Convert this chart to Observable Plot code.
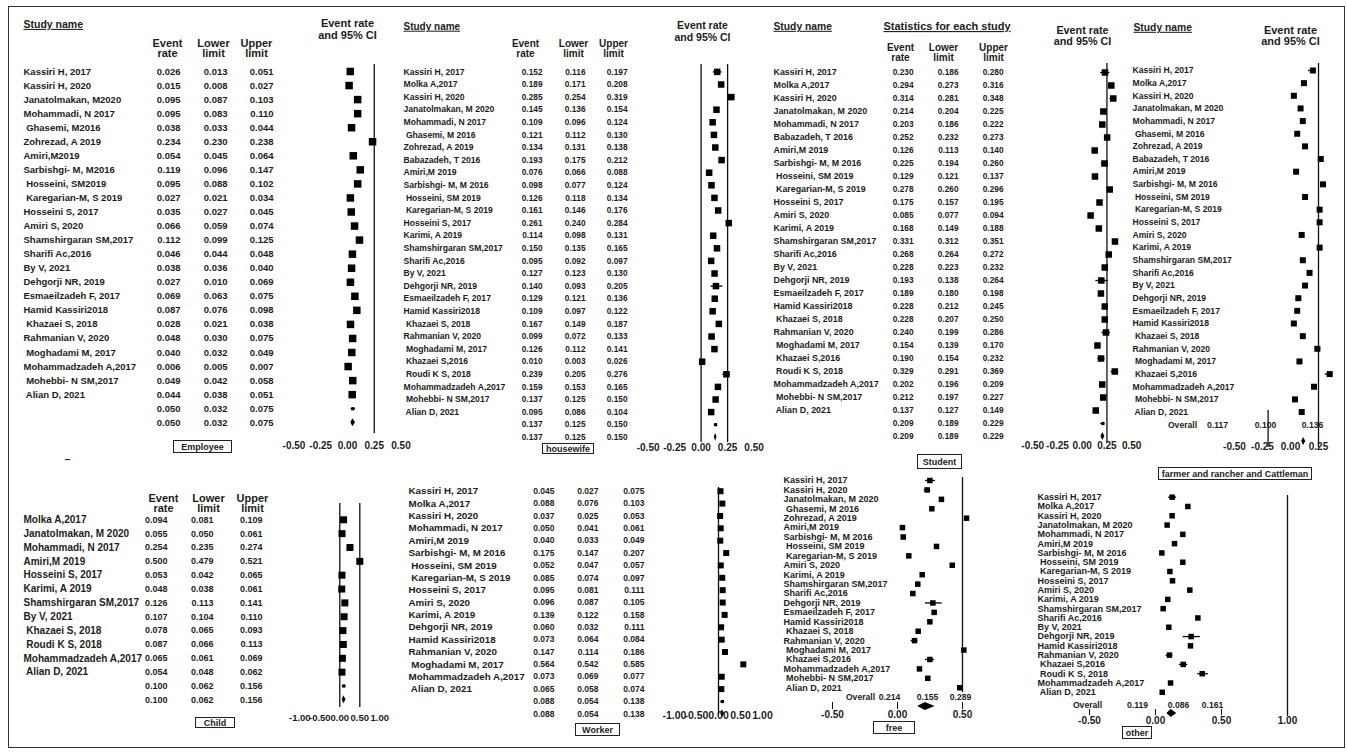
<!DOCTYPE html>
<html>
<head>
<meta charset="utf-8">
<script src="https://cdn.jsdelivr.net/npm/d3@7"></script>
<script src="https://cdn.jsdelivr.net/npm/@observablehq/plot@0.6"></script>
<style>
  html, body { margin: 0; padding: 0; background: #fff; }
  #page { position: relative; width: 1347px; height: 752px; overflow: hidden; background: #fff; }
  #frame { position: absolute; left: 8px; top: 6px; width: 1337px; height: 742px; border: 1.5px solid #333; box-sizing: border-box; }
  .panel { position: absolute; }
  .panel svg { display: block; }
  .tag { position: absolute; box-sizing: border-box; border: 1.3px solid #222; font: bold 9px "Liberation Sans", Arial, sans-serif; color: #222; display: flex; align-items: center; justify-content: center; white-space: nowrap; }
</style>
</head>
<body>
<div id="page"><div id="frame"></div></div>
<script>
// ---------------- data ----------------
const groupLabels = ["Employee", "housewife", "Student", "farmer and rancher and Cattleman", "Child", "Worker", "free", "other"];

const ticksHalf = [-0.5, -0.25, 0, 0.25, 0.5];
const ticksFarmer = [-0.5, -0.25, 0, 0.25];
const ticksOne = [-1, -0.5, 0, 0.5, 1];
const ticksFree = [-0.5, 0, 0.5];
const ticksOther = [-0.5, 0, 0.5, 1];

const employeeStudy = ["Kassiri H, 2017", "Kassiri H, 2020", "Janatolmakan, M2020", "Mohammadi, N 2017", " Ghasemi, M2016", "Zohrezad, A 2019", "Amiri,M2019", "Sarbishgi- M, M2016", " Hosseini, SM2019", " Karegarian-M, S 2019", "Hosseini S, 2017", "Amiri S, 2020", "Shamshirgaran SM,2017", "Sharifi Ac,2016", "By V, 2021", "Dehgorji NR, 2019", "Esmaeilzadeh F, 2017", "Hamid Kassiri2018", " Khazaei S, 2018", "Rahmanian V, 2020", " Moghadami M, 2017", "Mohammadzadeh A,2017", " Mohebbi- N SM,2017", " Alian D, 2021"];
const employeeRate  = [0.026, 0.015, 0.095, 0.095, 0.038, 0.234, 0.054, 0.119, 0.095, 0.027, 0.035, 0.066, 0.112, 0.046, 0.038, 0.027, 0.069, 0.087, 0.028, 0.048, 0.040, 0.006, 0.049, 0.044];
const employeeLower = [0.013, 0.008, 0.087, 0.083, 0.033, 0.230, 0.045, 0.096, 0.088, 0.021, 0.027, 0.059, 0.099, 0.044, 0.036, 0.010, 0.063, 0.076, 0.021, 0.030, 0.032, 0.005, 0.042, 0.038];
const employeeUpper = [0.051, 0.027, 0.103, 0.110, 0.044, 0.238, 0.064, 0.147, 0.102, 0.034, 0.045, 0.074, 0.125, 0.048, 0.040, 0.069, 0.075, 0.098, 0.038, 0.075, 0.049, 0.007, 0.058, 0.051];
const employeeSummary = [0.050, 0.032, 0.075];

const housewifeStudy = ["Kassiri H, 2017", "Molka A,2017", "Kassiri H, 2020", "Janatolmakan, M 2020", "Mohammadi, N 2017", " Ghasemi, M 2016", "Zohrezad, A 2019", "Babazadeh, T 2016", "Amiri,M 2019", "Sarbishgi- M, M 2016", " Hosseini, SM 2019", " Karegarian-M, S 2019", "Hosseini S, 2017", "Karimi, A 2019", "Shamshirgaran SM,2017", "Sharifi Ac,2016", "By V, 2021", "Dehgorji NR, 2019", "Esmaeilzadeh F, 2017", "Hamid Kassiri2018", " Khazaei S, 2018", "Rahmanian V, 2020", " Moghadami M, 2017", " Khazaei S,2016", " Roudi K S, 2018", "Mohammadzadeh A,2017", " Mohebbi- N SM,2017", " Alian D, 2021"];
const housewifeRate  = [0.152, 0.189, 0.285, 0.145, 0.109, 0.121, 0.134, 0.193, 0.076, 0.098, 0.126, 0.161, 0.261, 0.114, 0.150, 0.095, 0.127, 0.140, 0.129, 0.109, 0.167, 0.099, 0.126, 0.010, 0.239, 0.159, 0.137, 0.095];
const housewifeLower = [0.116, 0.171, 0.254, 0.136, 0.096, 0.112, 0.131, 0.175, 0.066, 0.077, 0.118, 0.146, 0.240, 0.098, 0.135, 0.092, 0.123, 0.093, 0.121, 0.097, 0.149, 0.072, 0.112, 0.003, 0.205, 0.153, 0.125, 0.086];
const housewifeUpper = [0.197, 0.208, 0.319, 0.154, 0.124, 0.130, 0.138, 0.212, 0.088, 0.124, 0.134, 0.176, 0.284, 0.131, 0.165, 0.097, 0.130, 0.205, 0.136, 0.122, 0.187, 0.133, 0.141, 0.026, 0.276, 0.165, 0.150, 0.104];
const housewifeSummary = [0.137, 0.125, 0.150];

const studentStudy = ["Kassiri H, 2017", "Molka A,2017", "Kassiri H, 2020", "Janatolmakan, M 2020", "Mohammadi, N 2017", "Babazadeh, T 2016", "Amiri,M 2019", "Sarbishgi- M, M 2016", " Hosseini, SM 2019", " Karegarian-M, S 2019", "Hosseini S, 2017", "Amiri S, 2020", "Karimi, A 2019", "Shamshirgaran SM,2017", "Sharifi Ac,2016", "By V, 2021", "Dehgorji NR, 2019", "Esmaeilzadeh F, 2017", "Hamid Kassiri2018", " Khazaei S, 2018", "Rahmanian V, 2020", " Moghadami M, 2017", " Khazaei S,2016", " Roudi K S, 2018", "Mohammadzadeh A,2017", " Mohebbi- N SM,2017", " Alian D, 2021"];
const studentRate  = [0.230, 0.294, 0.314, 0.214, 0.203, 0.252, 0.126, 0.225, 0.129, 0.278, 0.175, 0.085, 0.168, 0.331, 0.268, 0.228, 0.193, 0.189, 0.228, 0.228, 0.240, 0.154, 0.190, 0.329, 0.202, 0.212, 0.137];
const studentLower = [0.186, 0.273, 0.281, 0.204, 0.186, 0.232, 0.113, 0.194, 0.121, 0.260, 0.157, 0.077, 0.149, 0.312, 0.264, 0.223, 0.138, 0.180, 0.212, 0.207, 0.199, 0.139, 0.154, 0.291, 0.196, 0.197, 0.127];
const studentUpper = [0.280, 0.316, 0.348, 0.225, 0.222, 0.273, 0.140, 0.260, 0.137, 0.296, 0.195, 0.094, 0.188, 0.351, 0.272, 0.232, 0.264, 0.198, 0.245, 0.250, 0.286, 0.170, 0.232, 0.369, 0.209, 0.227, 0.149];
const studentSummary = [0.209, 0.189, 0.229];

const farmerStudy = ["Kassiri H, 2017", "Molka A,2017", "Kassiri H, 2020", "Janatolmakan, M 2020", "Mohammadi, N 2017", " Ghasemi, M 2016", "Zohrezad, A 2019", "Babazadeh, T 2016", "Amiri,M 2019", "Sarbishgi- M, M 2016", " Hosseini, SM 2019", " Karegarian-M, S 2019", "Hosseini S, 2017", "Amiri S, 2020", "Karimi, A 2019", "Shamshirgaran SM,2017", "Sharifi Ac,2016", "By V, 2021", "Dehgorji NR, 2019", "Esmaeilzadeh F, 2017", "Hamid Kassiri2018", " Khazaei S, 2018", "Rahmanian V, 2020", " Moghadami M, 2017", " Khazaei S,2016", "Mohammadzadeh A,2017", " Mohebbi- N SM,2017", " Alian D, 2021"];
const farmerRate  = [0.20, 0.12, 0.03, 0.09, 0.11, 0.06, 0.13, 0.27, 0.05, 0.29, 0.13, 0.26, 0.26, 0.10, 0.26, 0.11, 0.17, 0.13, 0.07, 0.06, 0.03, 0.11, 0.24, 0.08, 0.35, 0.21, 0.04, 0.10];
const farmerLower = [0.16, null, null, null, null, null, null, null, null, null, null, null, null, null, null, null, null, null, 0.05, null, null, null, 0.22, null, 0.31, null, null, null];
const farmerUpper = [0.23, null, null, null, null, null, null, null, null, null, null, null, null, null, null, null, null, null, 0.10, null, null, null, 0.27, null, 0.38, null, null, null];
const farmerOverall = [0.117, 0.100, 0.136];

const childStudy = ["Molka A,2017", "Janatolmakan, M 2020", "Mohammadi, N 2017", "Amiri,M 2019", "Hosseini S, 2017", "Karimi, A 2019", "Shamshirgaran SM,2017", "By V, 2021", " Khazaei S, 2018", " Roudi K S, 2018", "Mohammadzadeh A,2017", " Alian D, 2021"];
const childRate  = [0.094, 0.055, 0.254, 0.500, 0.053, 0.048, 0.126, 0.107, 0.078, 0.087, 0.065, 0.054];
const childLower = [0.081, 0.050, 0.235, 0.479, 0.042, 0.038, 0.113, 0.104, 0.065, 0.066, 0.061, 0.048];
const childUpper = [0.109, 0.061, 0.274, 0.521, 0.065, 0.061, 0.141, 0.110, 0.093, 0.113, 0.069, 0.062];
const childSummary = [0.100, 0.062, 0.156];

const workerStudy = ["Kassiri H, 2017", "Molka A,2017", "Kassiri H, 2020", "Mohammadi, N 2017", "Amiri,M 2019", "Sarbishgi- M, M 2016", " Hosseini, SM 2019", " Karegarian-M, S 2019", "Hosseini S, 2017", "Amiri S, 2020", "Karimi, A 2019", "Dehgorji NR, 2019", "Hamid Kassiri2018", "Rahmanian V, 2020", " Moghadami M, 2017", "Mohammadzadeh A,2017", " Alian D, 2021"];
const workerRate  = [0.045, 0.088, 0.037, 0.050, 0.040, 0.175, 0.052, 0.085, 0.095, 0.096, 0.139, 0.060, 0.073, 0.147, 0.564, 0.073, 0.065];
const workerLower = [0.027, 0.076, 0.025, 0.041, 0.033, 0.147, 0.047, 0.074, 0.081, 0.087, 0.122, 0.032, 0.064, 0.114, 0.542, 0.069, 0.058];
const workerUpper = [0.075, 0.103, 0.053, 0.061, 0.049, 0.207, 0.057, 0.097, 0.111, 0.105, 0.158, 0.111, 0.084, 0.186, 0.585, 0.077, 0.074];
const workerSummary = [0.088, 0.054, 0.138];

const freeStudy = ["Kassiri H, 2017", "Kassiri H, 2020", "Janatolmakan, M 2020", " Ghasemi, M 2016", "Zohrezad, A 2019", "Amiri,M 2019", "Sarbishgi- M, M 2016", " Hosseini, SM 2019", " Karegarian-M, S 2019", "Amiri S, 2020", "Karimi, A 2019", "Shamshirgaran SM,2017", "Sharifi Ac,2016", "Dehgorji NR, 2019", "Esmaeilzadeh F, 2017", "Hamid Kassiri2018", " Khazaei S, 2018", "Rahmanian V, 2020", " Moghadami M, 2017", " Khazaei S,2016", "Mohammadzadeh A,2017", " Mohebbi- N SM,2017", " Alian D, 2021"];
const freeRate  = [0.249, 0.228, 0.338, 0.264, 0.531, 0.038, 0.044, 0.300, 0.087, 0.421, 0.190, 0.156, 0.118, 0.272, 0.282, 0.249, 0.159, 0.131, 0.510, 0.249, 0.169, 0.233, 0.479];
const freeLower = [0.215, 0.205, null, null, null, null, null, null, null, null, null, null, null, 0.215, null, null, null, 0.105, null, 0.215, null, null, null];
const freeUpper = [0.292, 0.256, null, null, null, null, null, null, null, null, null, null, null, 0.344, null, null, null, 0.156, null, 0.285, null, null, null];
const freeOverall = [0.214, 0.155, 0.289];

const otherStudy = ["Kassiri H, 2017", "Molka A,2017", "Kassiri H, 2020", "Janatolmakan, M 2020", "Mohammadi, N 2017", "Amiri,M 2019", "Sarbishgi- M, M 2016", " Hosseini, SM 2019", " Karegarian-M, S 2019", "Hosseini S, 2017", "Amiri S, 2020", "Karimi, A 2019", "Shamshirgaran SM,2017", "Sharifi Ac,2016", "By V, 2021", "Dehgorji NR, 2019", "Hamid Kassiri2018", "Rahmanian V, 2020", " Khazaei S,2016", " Roudi K S, 2018", "Mohammadzadeh A,2017", " Alian D, 2021"];
const otherRate  = [0.126, 0.245, 0.126, 0.088, 0.207, 0.144, 0.048, 0.207, 0.109, 0.129, 0.260, 0.093, 0.058, 0.321, 0.101, 0.270, 0.265, 0.106, 0.210, 0.354, 0.114, 0.051];
const otherLower = [0.10, null, null, null, null, null, null, null, null, null, null, null, null, null, null, 0.21, null, 0.08, 0.18, 0.32, null, null];
const otherUpper = [0.16, null, null, null, null, null, null, null, null, null, null, null, null, null, null, 0.34, null, 0.13, 0.245, 0.40, null, null];
const otherOverall = [0.119, 0.086, 0.161];

// ---------------- layout ----------------
const FONT = "'Liberation Sans', Arial, Helvetica, sans-serif";
const colHead = (x, y, size, lh) => [
  {t: "Event\nrate", x: x[0], y, size, lh},
  {t: "Lower\nlimit", x: x[1], y, size, lh},
  {t: "Upper\nlimit", x: x[2], y, size, lh}
];

const panels = [
  { L: 0, T: 0, W: 415, H: 462,
    names: employeeStudy, rate: employeeRate, lower: employeeLower, upper: employeeUpper, summary: employeeSummary, table: true,
    rowY0: 71, step: 14.05, nameX: 23, nameSize: 9.5, valX: [180, 227, 273], valSize: 9.5,
    xZero: 347, ppu: 107, side: 7.5, refs: [{v: 0.25, y1: 64, y2: 433}],
    ticks: ticksHalf, axisY: 445, axisSize: 10,
    headers: [{t: "Study name", x: 23, y: 24, anchor: "start", size: 10.5},
      ...colHead([167, 213, 256], 48, 11, 0.95),
      {t: "Event rate\nand 95% CI", x: 347, y: 29, size: 11, lh: 1.1}] },
  { L: 392, T: 0, W: 378, H: 462,
    names: housewifeStudy, rate: housewifeRate, lower: housewifeLower, upper: housewifeUpper, summary: housewifeSummary, table: true,
    rowY0: 71.4, step: 12.6, nameX: 403, nameSize: 8.6, valX: [542, 585, 627], valSize: 8.3,
    xZero: 700.6, ppu: 106, side: 6.5, refs: [{v: 0, y1: 64, y2: 442}, {v: 0.25, y1: 64, y2: 442}],
    ticks: ticksHalf, axisY: 447, axisSize: 10,
    headers: [{t: "Study name", x: 403, y: 26, anchor: "start", size: 10},
      ...colHead([525, 573, 613], 48, 10, 0.98),
      {t: "Event rate\nand 95% CI", x: 702, y: 31, size: 10.5, lh: 1.12}] },
  { L: 770, T: 0, W: 380, H: 472,
    names: studentStudy, rate: studentRate, lower: studentLower, upper: studentUpper, summary: studentSummary, table: true,
    rowY0: 72, step: 13.0, nameX: 773, nameSize: 8.9, valX: [913, 958, 1003], valSize: 8.3,
    xZero: 1081.7, ppu: 99, side: 6.5, refs: [{v: 0.25, y1: 63, y2: 442}],
    ticks: ticksHalf, axisY: 445, axisSize: 10,
    headers: [{t: "Study name", x: 773, y: 26, anchor: "start", size: 10.3},
      {t: "Statistics for each study", x: 883, y: 26, anchor: "start", size: 11},
      ...colHead([900, 943, 993], 52, 10, 0.98),
      {t: "Event rate\nand 95% CI", x: 1082, y: 35.5, size: 10.8, lh: 1.0}] },
  { L: 1125, T: 0, W: 222, H: 486,
    names: farmerStudy, rate: farmerRate, lower: farmerLower, upper: farmerUpper, overall: farmerOverall, table: false,
    rowY0: 70, step: 12.65, nameX: 1132, nameSize: 8.6,
    xZero: 1290, ppu: 112, side: 6, refs: [{v: 0.25, y1: 63, y2: 447}, {v: -0.2, y1: 410, y2: 447}],
    ticks: ticksFarmer, axisY: 446, axisSize: 10,
    overallLabelX: 1182, overallX: [1217, 1265, 1312], overallY: 425, overallSize: 8.6, diamondRow: 29.33, diamondHalf: 4,
    headers: [{t: "Study name", x: 1133, y: 27, anchor: "start", size: 10.3},
      {t: "Event rate\nand 95% CI", x: 1290, y: 35.5, size: 11, lh: 1.0}] },
  { L: 0, T: 455, W: 395, H: 297,
    names: childStudy, rate: childRate, lower: childLower, upper: childUpper, summary: childSummary, table: true,
    rowY0: 519.3, step: 13.85, nameX: 23, nameSize: 10, valX: [167, 213, 262], valSize: 9,
    xZero: 339.3, ppu: 40, side: 7, refs: [{v: 0, y1: 503, y2: 707}, {v: 0.5, y1: 503, y2: 707}],
    ticks: ticksOne, axisY: 717, axisSize: 9.5,
    headers: [{t: "\u2013", x: 67, y: 459, size: 10},
      ...colHead([163, 208, 252], 503, 11, 0.95)] },
  { L: 395, T: 455, W: 390, H: 297,
    names: workerStudy, rate: workerRate, lower: workerLower, upper: workerUpper, summary: workerSummary, table: true,
    rowY0: 490.7, step: 12.37, nameX: 408, nameSize: 9.8, valX: [554, 598, 644], valSize: 8.5,
    xZero: 718, ppu: 44, side: 6, refs: [{v: 0, y1: 487, y2: 714}],
    ticks: ticksOne, axisY: 715, axisSize: 10.5,
    headers: [] },
  { L: 770, T: 472, W: 245, H: 280,
    names: freeStudy, rate: freeRate, lower: freeLower, upper: freeUpper, overall: freeOverall, table: false,
    rowY0: 480, step: 9.42, nameX: 783, nameSize: 9,
    xZero: 897, ppu: 130, side: 5.5, refs: [{v: 0.5, y1: 477, y2: 692}],
    ticks: ticksFree, axisY: 714, axisSize: 10, tickMarks: {y1: 702, y2: 709},
    overallLabelX: 860, overallX: [889, 927, 960], overallY: 697, overallSize: 8.6, diamondRow: 24, diamondHalf: 4,
    headers: [] },
  { L: 1015, T: 484, W: 330, H: 268,
    names: otherStudy, rate: otherRate, lower: otherLower, upper: otherUpper, overall: otherOverall, table: false,
    rowY0: 496.7, step: 9.29, nameX: 1037, nameSize: 9,
    xZero: 1155, ppu: 132, side: 5.5, refs: [{v: 1, y1: 495, y2: 716}],
    ticks: ticksOther, axisY: 720, axisSize: 10, tickMarks: {y1: 709, y2: 715},
    overallLabelX: 1087, overallX: [1137, 1178, 1212], overallY: 705, overallSize: 8.6, diamondRow: 23.28, diamondHalf: 4,
    headers: [] }
];

const tagBoxes = [
  {x: 173, y: 440, w: 59, h: 13}, {x: 542, y: 443, w: 52, h: 11}, {x: 917, y: 454, w: 45, h: 15},
  {x: 1158, y: 467, w: 154, h: 13}, {x: 195, y: 717, w: 40, h: 11}, {x: 575, y: 723, w: 45, h: 13},
  {x: 873, y: 721, w: 42, h: 13}, {x: 1122, y: 726, w: 30, h: 13}
];

// ---------------- drawing ----------------
const fmt3 = v => v.toFixed(3);
const fmt2 = v => v.toFixed(2);

function makePanel(c) {
  const studies = c.names.map((name, i) => ({
    i, name, er: c.rate[i],
    ll: c.lower ? c.lower[i] : null,
    ul: c.upper ? c.upper[i] : null
  }));
  const n = studies.length;
  const marks = [];
  const txt = (s, x, y, o = {}) => Plot.text([s], {
    frameAnchor: "top-left", dx: x - c.L, dy: y - c.T,
    textAnchor: o.anchor || "middle", lineAnchor: "middle", fontSize: o.size || 10,
    fontWeight: "bold", lineHeight: o.lh || 1
  });

  for (const h of c.headers) marks.push(txt(h.t, h.x, h.y, h));

  for (const r of c.refs) {
    marks.push(Plot.ruleX([r.v], {x: d => d, insetTop: r.y1 - c.T, insetBottom: c.T + c.H - r.y2, stroke: "#111", strokeWidth: 1.3}));
  }

  marks.push(Plot.text(studies, {y: "i", text: "name", frameAnchor: "left", dx: c.nameX - c.L,
    textAnchor: "start", lineAnchor: "middle", fontSize: c.nameSize, fontWeight: "bold"}));

  const diamonds = [];
  if (c.table) {
    const rows = studies.map(d => ({i: d.i, er: d.er, ll: d.ll, ul: d.ul}));
    rows.push({i: n, er: c.summary[0], ll: c.summary[1], ul: c.summary[2]});
    rows.push({i: n + 1, er: c.summary[0], ll: c.summary[1], ul: c.summary[2]});
    ["er", "ll", "ul"].forEach((k, j) => marks.push(Plot.text(rows, {y: "i", text: d => fmt3(d[k]),
      frameAnchor: "left", dx: c.valX[j] - c.L, textAnchor: "end", lineAnchor: "middle", fontSize: c.valSize, fontWeight: "bold"})));
    const fixed = [rows[n]];
    marks.push(Plot.ruleY(fixed, {y: "i", x1: "ll", x2: "ul", stroke: "#000", strokeWidth: 1}));
    marks.push(Plot.dot(fixed, {x: "er", y: "i", symbol: "square", r: 3.2 / Math.sqrt(Math.PI), fill: "#000"}));
    diamonds.push({row: n + 1, er: c.summary[0], ll: c.summary[1], ul: c.summary[2], half: 4});
  } else {
    marks.push(txt("Overall", c.overallLabelX, c.overallY, {size: c.overallSize}));
    c.overall.forEach((v, j) => marks.push(txt(fmt3(v), c.overallX[j], c.overallY, {size: c.overallSize})));
    diamonds.push({row: c.diamondRow, er: c.overall[0], ll: c.overall[1], ul: c.overall[2], half: c.diamondHalf});
  }

  const dpts = [];
  diamonds.forEach((d, id) => {
    const h = d.half / c.step;
    dpts.push({id, x: d.ll, y1: d.row, y2: d.row});
    dpts.push({id, x: d.er, y1: d.row - h, y2: d.row + h});
    dpts.push({id, x: d.ul, y1: d.row, y2: d.row});
  });
  marks.push(Plot.areaY(dpts, {x: "x", y1: "y1", y2: "y2", z: "id", fill: "#000"}));

  marks.push(Plot.ruleY(studies.filter(d => d.ll != null && d.ul != null), {y: "i", x1: "ll", x2: "ul", stroke: "#000", strokeWidth: 1.3}));
  marks.push(Plot.dot(studies, {x: "er", y: "i", symbol: "square", r: c.side / Math.sqrt(Math.PI), fill: "#000"}));

  if (c.tickMarks) {
    marks.push(Plot.ruleX(c.ticks, {x: d => d, insetTop: c.tickMarks.y1 - c.T, insetBottom: c.T + c.H - c.tickMarks.y2, stroke: "#111", strokeWidth: 1}));
  }
  marks.push(Plot.text(c.ticks, {x: d => d, text: d => fmt2(d), frameAnchor: "top", dy: c.axisY - c.T,
    lineAnchor: "middle", fontSize: c.axisSize, fontWeight: "bold"}));

  const svg = Plot.plot({
    width: c.W, height: c.H,
    marginTop: 0, marginRight: 0, marginBottom: 0, marginLeft: 0,
    x: {type: "linear", domain: [0, 1], range: [c.xZero - c.L, c.xZero + c.ppu - c.L], axis: null},
    y: {type: "linear", domain: [0, 1], range: [c.rowY0 - c.T, c.rowY0 + c.step - c.T], axis: null},
    style: {background: "transparent", fontFamily: FONT, color: "#1c1c1c"},
    marks
  });
  d3.select(svg).selectAll("text")
    .filter(function () { return this.textContent === "Study name" || this.textContent === "Statistics for each study"; })
    .attr("text-decoration", "underline");

  const div = document.createElement("div");
  div.className = "panel";
  div.style.left = c.L + "px";
  div.style.top = c.T + "px";
  div.style.width = c.W + "px";
  div.style.height = c.H + "px";
  div.appendChild(svg);
  return div;
}

const page = document.getElementById("page");
panels.forEach(c => page.appendChild(makePanel(c)));
tagBoxes.forEach((b, i) => {
  const t = document.createElement("div");
  t.className = "tag";
  t.style.left = b.x + "px"; t.style.top = b.y + "px";
  t.style.width = b.w + "px"; t.style.height = b.h + "px";
  t.textContent = groupLabels[i];
  page.appendChild(t);
});
</script>
</body>
</html>
